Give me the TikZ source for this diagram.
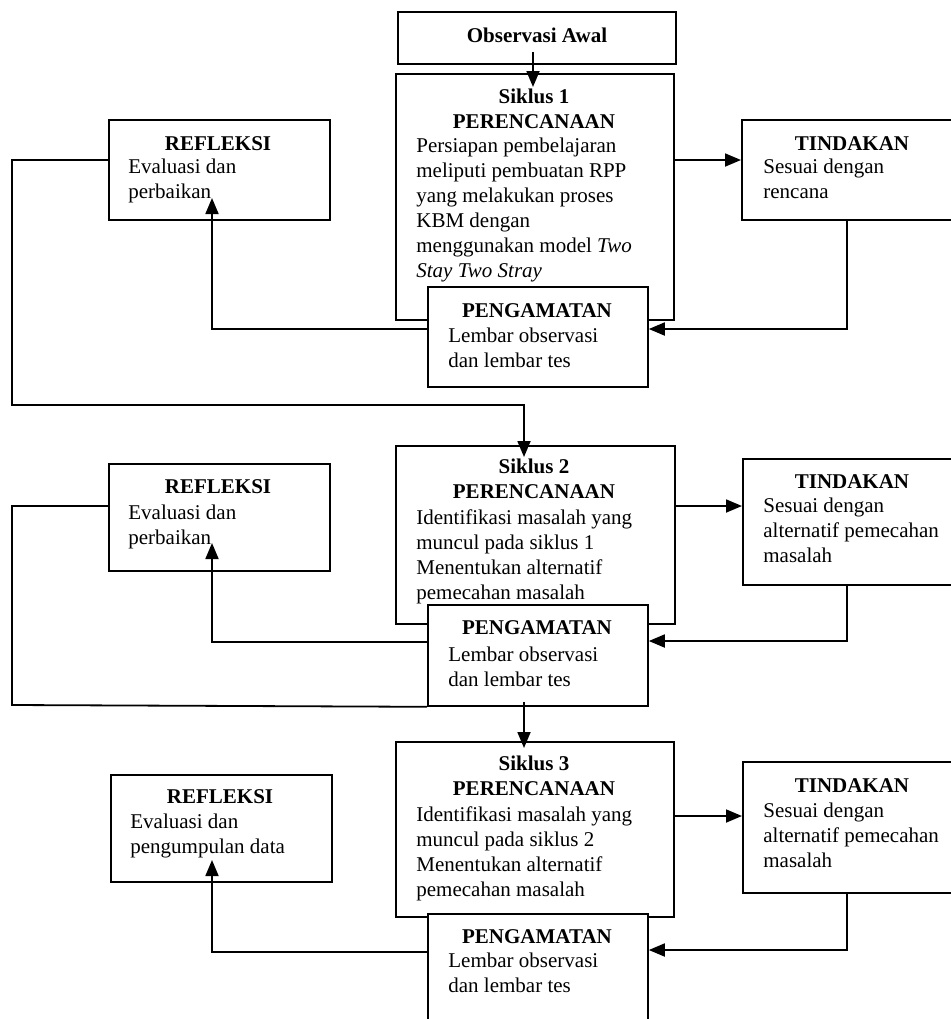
\documentclass[tikz,border=0pt]{standalone}
\usepackage{fontspec}
\setmainfont{Liberation Serif}
\usetikzlibrary{arrows.meta}
\begin{document}
\begin{tikzpicture}[x=0.5pt,y=-0.5pt,
  boxst/.style={draw, line width=0.9pt, fill=white, inner sep=0pt, anchor=north west},
  hd/.style={font=\fontsize{10.5}{12.5}\selectfont\bfseries, align=center, inner sep=0pt, anchor=north},
  hb/.style={font=\fontsize{10.5}{12.5}\selectfont\bfseries, inner sep=0pt, anchor=base},
  bd/.style={font=\fontsize{10.5}{12.5}\selectfont, align=left, inner sep=0pt, anchor=north west},
  ln/.style={line width=0.9pt},
  arr/.style={line width=0.9pt, -{Triangle[length=8pt,width=6.5pt]}}]
\useasboundingbox (0,0) rectangle (951,1019);

% ---------- boxes ----------
\node[boxst, minimum width=139pt, minimum height=26pt] (obs) at (397,11) {};
\node[boxst, minimum width=139pt, minimum height=123pt] (s1) at (395,73) {};
\node[boxst, minimum width=110pt, minimum height=50pt] (p1) at (427,286) {};
\node[boxst, minimum width=111pt, minimum height=50pt] (t1) at (741,119) {};
\node[boxst, minimum width=110.5pt, minimum height=50pt] (r1) at (108,119) {};

\node[boxst, minimum width=139.5pt, minimum height=89pt] (s2) at (395,445) {};
\node[boxst, minimum width=110pt, minimum height=50.5pt] (p2) at (427,604) {};
\node[boxst, minimum width=110.5pt, minimum height=63pt] (t2) at (742,458) {};
\node[boxst, minimum width=110.5pt, minimum height=53.5pt] (r2) at (108,463) {};

\node[boxst, minimum width=139pt, minimum height=87.5pt] (s3) at (395,741) {};
\node[boxst, minimum width=110pt, minimum height=65pt] (p3) at (427,913) {};
\node[boxst, minimum width=110.5pt, minimum height=65.5pt] (t3) at (742,761) {};
\node[boxst, minimum width=110.5pt, minimum height=53.5pt] (r3) at (110,774) {};

% ---------- texts ----------
\node[hb] (obsT) at (537,42) {Observasi Awal};

\node[hd] (s1H) at (534,89) {Siklus 1\\PERENCANAAN};
\node[bd] (s1B) at (416,138) {Persiapan pembelajaran\\meliputi pembuatan RPP\\yang melakukan proses\\KBM dengan\\menggunakan model \textit{Two}\\\textit{Stay Two Stray}};
\node[hb] (p1H) at (537,317) {PENGAMATAN};
\node[bd] (p1B) at (448,328) {Lembar observasi\\dan lembar tes};
\node[hb] (t1H) at (852,150) {TINDAKAN};
\node[bd] (t1B) at (763,159) {Sesuai dengan\\rencana};
\node[hb] (r1H) at (218,150) {REFLEKSI};
\node[bd] (r1B) at (128,159) {Evaluasi dan\\perbaikan};

\node[hd] (s2H) at (534,459) {Siklus 2\\PERENCANAAN};
\node[bd] (s2B) at (416,509) {Identifikasi masalah yang\\muncul pada siklus 1\\Menentukan alternatif\\pemecahan masalah};
\node[hb] (p2H) at (537,634) {PENGAMATAN};
\node[bd] (p2B) at (448,647) {Lembar observasi\\dan lembar tes};
\node[hb] (t2H) at (852,488) {TINDAKAN};
\node[bd] (t2B) at (763,498) {Sesuai dengan\\alternatif pemecahan\\masalah};
\node[hb] (r2H) at (218,493) {REFLEKSI};
\node[bd] (r2B) at (128,505) {Evaluasi dan\\perbaikan};

\node[hd] (s3H) at (534,756) {Siklus 3\\PERENCANAAN};
\node[bd] (s3B) at (416,806) {Identifikasi masalah yang\\muncul pada siklus 2\\Menentukan alternatif\\pemecahan masalah};
\node[hb] (p3H) at (537,943) {PENGAMATAN};
\node[bd] (p3B) at (448,953) {Lembar observasi\\dan lembar tes};
\node[hb] (t3H) at (852,792) {TINDAKAN};
\node[bd] (t3B) at (763,803) {Sesuai dengan\\alternatif pemecahan\\masalah};
\node[hb] (r3H) at (220,803) {REFLEKSI};
\node[bd] (r3B) at (130,814) {Evaluasi dan\\pengumpulan data};

% ---------- arrow tip points ----------
\coordinate (s1tip) at (533,87);
\coordinate (s2tip) at (524,457);
\coordinate (s3tip) at (524,748);
\coordinate (r1tip) at (212,198);
\coordinate (r2tip) at (212,543);
\coordinate (r3tip) at (212,860);

% ---------- connectors ----------
\draw[arr] (obs.south -| s1tip) ++(0,-13) -- (s1tip);

\draw[arr] (s1.east |- 0,160) -- (t1.west |- 0,160);
\draw[arr] (t1.south -| 847,0) |- (p1.east |- 0,329);
\draw[arr] (p1.west |- 0,329) -| (r1tip);
\draw[arr] (r1.west |- 0,160) -| (12,405) -| (s2tip);

\draw[arr] (s2.east |- 0,506) -- (t2.west |- 0,506);
\draw[arr] (t2.south -| 847,0) |- (p2.east |- 0,641);
\draw[arr] (p2.west |- 0,642) -| (r2tip);
\draw[ln] (r2.west |- 0,506) -| (12,705) -- (p2.south west);
\draw[arr] (p2.south -| s3tip) ++(0,-5) -- (s3tip);

\draw[arr] (s3.east |- 0,816) -- (t3.west |- 0,816);
\draw[arr] (t3.south -| 847,0) |- (p3.east |- 0,950);
\draw[arr] (p3.west |- 0,952) -| (r3tip);
\end{tikzpicture}
\end{document}
